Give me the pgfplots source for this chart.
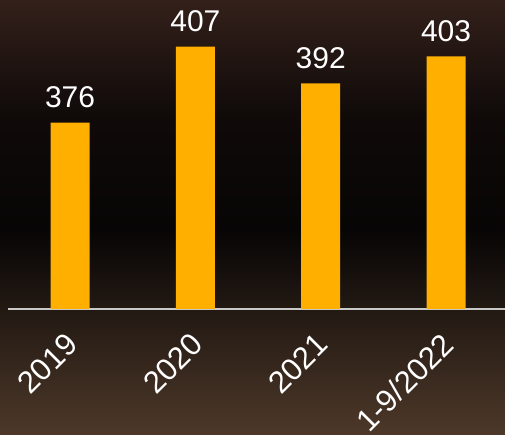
\documentclass[border=0pt]{standalone}
\usepackage{fontspec}
\setmainfont{Liberation Sans}
\usepackage{pgfplots}
\pgfplotsset{compat=1.18}
\definecolor{barorange}{HTML}{FFAF00}
\definecolor{bgtop}{HTML}{33201A}
\definecolor{bgmid}{HTML}{070505}
\definecolor{bgbot}{HTML}{4D3829}
\definecolor{baseline}{HTML}{C8C8C8}
\begin{document}
\begin{tikzpicture}
% photo-like dark background
\shade[top color=bgtop, bottom color=bgmid, middle color=bgmid!80!bgtop] (-8pt,80pt) rectangle (497pt,309pt);
\shade[top color=bgmid, bottom color=bgbot] (-8pt,-126pt) rectangle (497pt,80pt);
\begin{axis}[
    at={(0,0)}, anchor=south west,
    scale only axis, width=497pt, height=309pt,
    ybar, bar width=39pt,
    xmin=-0.495, xmax=3.47, ymin=300, ymax=426,
    axis x line=bottom, axis y line=none,
    x axis line style={-, draw=baseline, line width=1.5pt},
    xtick=data, xticklabels={2019,2020,2021,1-9/2022},
    major tick length=0pt,
    xticklabel style={font=\fontsize{31}{34}\selectfont, text=white,
        inner sep=0pt, anchor=east, xshift=2pt, yshift=-30pt, rotate=45},
    /pgf/number format/assume math mode=true,
    nodes near coords,
    nodes near coords style={font=\fontsize{30}{34}\selectfont, text=white,
        anchor=base, yshift=15pt},
    clip=false,
]
\addplot[fill=barorange, draw=none] coordinates {
    (0,376) (1,407) (2,392) (3,403)
};
\end{axis}
\pgfresetboundingbox
\path (-8pt,-126pt) rectangle (497pt,309pt);
\end{tikzpicture}
\end{document}
